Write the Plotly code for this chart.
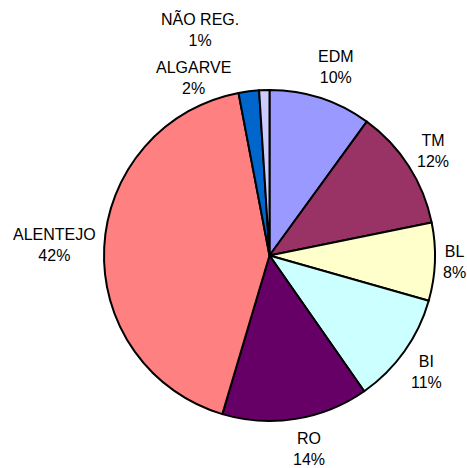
import math
import plotly.graph_objects as go

labels = ["EDM", "TM", "BL", "BI", "RO", "ALENTEJO", "ALGARVE", "NÃO REG."]
values = [10.0, 11.8, 7.6, 10.9, 14.3, 42.4, 2.0, 1.0]
colors = ["#9999FF", "#993366", "#FFFFCC", "#CCFFFF", "#660066", "#FF8080", "#0066CC", "#CCCCFF"]

W, H = 467, 468
cx, cy, r = 269.5, 255.5, 165.5
FS = 16
GAP = 7
# pixel nudges for label placement (layout only)
nudge = {"EDM": (5, 0), "TM": (-2, 2), "BI": (-4, 2), "RO": (8, 0),
         "ALGARVE": (-51, 19), "NÃO REG.": (-63, -32)}

# rough Arial advance widths (em)
AW = {c: 0.667 for c in "ABEKPSVXY"}
AW.update({c: 0.722 for c in "CDHNRUÃ"})
AW.update({c: 0.778 for c in "GOQ"})
AW.update({"F": 0.611, "T": 0.611, "Z": 0.611, "L": 0.556, "J": 0.5, "I": 0.278,
           "M": 0.833, "W": 0.944, " ": 0.278, ".": 0.278, "%": 0.889})
AW.update({c: 0.556 for c in "0123456789"})


def text_w(s):
    return sum(AW.get(ch, 0.6) for ch in s) * FS


total = sum(values)
pcts = [int(v / total * 100 + 0.5) for v in values]

annotations = []
cum = 0.0
for lab, v, p in zip(labels, values, pcts):
    mid = (cum + v / 2) / total * 2 * math.pi
    cum += v
    s, c = math.sin(mid), math.cos(mid)
    ptxt = f"{p}%"
    w = max(text_w(lab), text_w(ptxt))
    h = 2 * FS * 1.3
    d = r + GAP + abs(s) * w / 2 + abs(c) * h / 2
    px = cx + d * s
    py = cy - d * c
    dx, dy = nudge.get(lab, (0, 0))
    px += dx
    py += dy
    annotations.append(dict(
        x=px / W, y=1 - py / H, xref="paper", yref="paper",
        text=f"{lab}<br>{ptxt}", showarrow=False,
        xanchor="center", yanchor="middle", align="center",
        font=dict(family="Liberation Sans, Arial, sans-serif", size=FS, color="black"),
    ))

fig = go.Figure(go.Pie(
    labels=labels,
    values=values,
    sort=False,
    direction="clockwise",
    rotation=0,
    marker=dict(colors=colors, line=dict(color="black", width=2)),
    textinfo="none",
    showlegend=False,
    hoverinfo="label+percent",
    domain=dict(x=[(cx - r) / W, (cx + r) / W], y=[(H - cy - r) / H, (H - cy + r) / H]),
))

fig.update_layout(
    width=W, height=H,
    margin=dict(l=0, r=0, t=0, b=0),
    paper_bgcolor="white",
    plot_bgcolor="white",
    annotations=annotations,
)

fig.write_html("out.html", config={"displayModeBar": False},
               post_script="document.body.style.margin='0';document.body.style.overflow='hidden';")
